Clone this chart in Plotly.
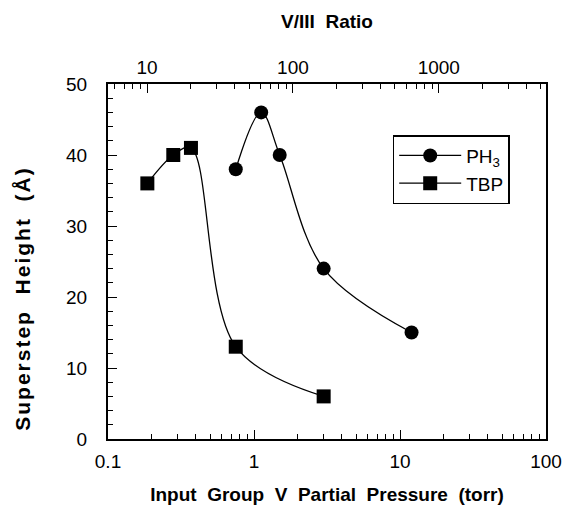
import plotly.graph_objects as go
import numpy as np

# Data
ph3_pressure = [0.75, 1.12, 1.5, 3.0, 12.0]
ph3_height = [38, 46, 40, 24, 15]
tbp_pressure = [0.186, 0.28, 0.37, 0.75, 3.0]
tbp_height = [36, 40, 41, 13, 6]

# Axis ticks
x_major = [0.1, 1, 10, 100]
x_minor = [m * 10.0**e for e in (-1, 0, 1) for m in range(2, 10)]
top_major = [10, 100, 1000]
top_minor = [m * 10.0**e for e in (0, 1, 2, 3) for m in range(2, 10)]
top_range = [np.log10(5.4), np.log10(5430)]

FONT = "Liberation Sans, Arial, sans-serif"
sp = "\u00a0"

fig = go.Figure()
fig.add_trace(go.Scatter(
    x=ph3_pressure, y=ph3_height, name="PH<sub>3</sub>",
    mode="lines+markers", line=dict(color="black", width=1.3, shape="spline", smoothing=1),
    marker=dict(symbol="circle", size=14, color="black"),
))
fig.add_trace(go.Scatter(
    x=tbp_pressure, y=tbp_height, name="TBP",
    mode="lines+markers", line=dict(color="black", width=1.3, shape="spline", smoothing=1),
    marker=dict(symbol="square", size=14, color="black"),
))
# invisible trace to activate top axis
fig.add_trace(go.Scatter(x=[10, 100], y=[-10, -10], xaxis="x2", mode="markers",
                         marker=dict(opacity=0), showlegend=False, hoverinfo="skip"))

fig.update_layout(
    width=566, height=505,
    margin=dict(l=108, r=20, t=84, b=66, autoexpand=False),
    paper_bgcolor="white", plot_bgcolor="white",
    font=dict(family=FONT, size=19, color="black"),
    showlegend=True,
    legend=dict(
        x=0.65, y=0.856, xanchor="left", yanchor="top",
        bordercolor="black", borderwidth=1.5, bgcolor="white",
        font=dict(size=19), itemwidth=62, tracegroupgap=4,
    ),
    xaxis=dict(
        type="log", range=[-1, 2], automargin=False,
        tickmode="array", tickvals=x_major, ticktext=["0.1", "1", "10", "100"],
        ticks="inside", ticklen=9, tickwidth=1.3, tickcolor="black",
        minor=dict(tickmode="array", tickvals=x_minor, ticks="inside", ticklen=5,
                   tickwidth=1.1, tickcolor="black", showgrid=False),
        showline=True, linecolor="black", linewidth=2, mirror=False,
        showgrid=False, zeroline=False, ticklabelstandoff=4,
        title=dict(text=f"<b>Input{sp} Group{sp} V{sp} Partial{sp} Pressure{sp} (torr)</b>",
                   font=dict(size=19), standoff=19),
    ),
    xaxis2=dict(
        type="log", range=top_range, overlaying="x", side="top", automargin=False,
        tickmode="array", tickvals=top_major, ticktext=["10", "100", "1000"],
        ticks="inside", ticklen=9, tickwidth=1.3, tickcolor="black",
        minor=dict(tickmode="array", tickvals=top_minor, ticks="inside", ticklen=5,
                   tickwidth=1.1, tickcolor="black", showgrid=False),
        showline=True, linecolor="black", linewidth=2,
        showgrid=False, zeroline=False, ticklabelstandoff=0,
        title=dict(text=f"<b>V/III{sp} Ratio</b>", font=dict(size=19), standoff=24),
    ),
    yaxis=dict(
        range=[0, 50], tickmode="linear", tick0=0, dtick=10, automargin=False,
        ticks="inside", ticklen=9, tickwidth=1.3, tickcolor="black",
        minor=dict(dtick=2, ticks="inside", ticklen=5, tickwidth=1.1,
                   tickcolor="black", showgrid=False),
        showline=True, linecolor="black", linewidth=2, mirror=True,
        showgrid=False, zeroline=False, ticklabelstandoff=15,
    ),
    annotations=[dict(
        text=f'<span style="letter-spacing:2px"><b>Superstep{sp} Height{sp} (Å)</b></span>',
        xref="paper", yref="paper", x=-0.197, y=0.397, textangle=-90,
        showarrow=False, font=dict(size=21), xanchor="center", yanchor="middle",
    )],
)

fig.write_html("out.html")
